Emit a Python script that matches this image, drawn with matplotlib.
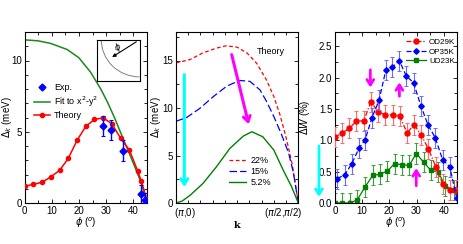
import matplotlib
matplotlib.use("Agg")
import matplotlib.pyplot as plt
from matplotlib.ticker import MultipleLocator, FixedLocator, FormatStrFormatter
from matplotlib.patches import Arc
from matplotlib.lines import Line2D
import matplotlib.transforms as mtransforms

plt.rcParams['font.family'] = ['Liberation Sans', 'DejaVu Sans']
plt.rcParams['mathtext.fontset'] = 'dejavusans'
plt.rcParams['font.size'] = 7

# ---------- Panel (a) data ----------
theory_phi = [0, 3.2, 6.4, 9.6, 12.9, 16.1, 19.3, 22.5, 25.7, 28.9, 32.1, 35.4, 38.6, 41.6, 42.9, 45]
theory_gap = [1.17, 1.31, 1.45, 1.82, 2.29, 3.13, 4.39, 5.37, 5.86, 5.98, 5.56, 4.53, 3.69, 2.26, 1.55, 0.25]
fit_phi = [0, 5, 9.6, 15.7, 20, 24.3, 28, 30.5, 33, 36, 39, 42.8, 45]
fit_gap = [11.45, 11.38, 11.2, 10.77, 10.19, 9.18, 8.01, 7.08, 6.03, 4.63, 3.27, 1.47, 0.0]
exp_phi = [28.7, 31.9, 36.3, 42.7, 44.4]
exp_gap = [5.38, 5.1, 3.68, 0.6, 0.18]
exp_err = [0.7, 0.7, 0.72, 0.65, 0.5]

# ---------- Panel (b) data ----------
k22 = [0, 0.115, 0.22, 0.33, 0.41, 0.5, 0.58, 0.66, 0.74, 0.80, 0.85, 0.90, 0.95, 1.0]
g22 = [14.75, 15.1, 15.8, 16.3, 16.55, 16.4, 15.8, 14.7, 12.95, 11.2, 9.3, 6.9, 4.1, 0.0]
k15 = [0, 0.087, 0.196, 0.305, 0.415, 0.52, 0.605, 0.687, 0.74, 0.80, 0.86, 0.92, 0.96, 1.0]
g15 = [8.6, 9.0, 9.97, 11.2, 12.3, 12.9, 12.8, 11.9, 10.7, 9.1, 7.3, 5.3, 3.2, 0.0]
k05 = [0, 0.05, 0.115, 0.22, 0.33, 0.44, 0.55, 0.62, 0.71, 0.80, 0.877, 0.946, 1.0]
g05 = [0.0, 0.2, 0.81, 2.05, 3.8, 5.74, 7.04, 7.5, 6.97, 5.57, 3.45, 1.69, 0.0]
b_labels = ['22%', '15%', '5.2%']
k_ticklabels = [r'($\pi$,0)', r'($\pi$/2,$\pi$/2)']

# ---------- Panel (c) data ----------
od_phi = [0, 2.65, 5.3, 7.9, 10.6, 13.2, 15.9, 18.5, 21.2, 23.8, 26.5, 29.1, 31.8, 34.4, 37.1, 39.7, 42.4, 44.6]
od_w = [1.05, 1.12, 1.19, 1.31, 1.31, 1.62, 1.45, 1.41, 1.41, 1.39, 1.12, 1.25, 1.08, 0.86, 0.58, 0.30, 0.20, 0.20]
op_phi = [0.85, 3.6, 6.2, 8.9, 11.1, 13.5, 16.2, 18.7, 21.1, 23.7, 26.2, 28.9, 31.6, 34.2, 36.9, 39.6, 42.2, 44.8]
op_w = [0.39, 0.45, 0.63, 0.88, 1.01, 1.35, 1.64, 2.12, 2.17, 2.27, 2.03, 1.92, 1.55, 1.25, 1.04, 0.69, 0.58, 0.08]
ud_phi = [0, 2.7, 5.5, 8.2, 11.1, 13.9, 16.6, 19.3, 21.9, 24.6, 27.3, 29.9, 32.6, 35.3, 37.9, 40.6, 43.9]
ud_w = [0.0, 0.0, 0.0, 0.05, 0.26, 0.44, 0.46, 0.51, 0.63, 0.61, 0.60, 0.79, 0.65, 0.52, 0.50, 0.27, 0.20]
err_c = 0.16
c_labels = ['OD29K', 'OP35K', 'UD23K']

W, H = 463, 244
fig = plt.figure(figsize=(W / 100, H / 100), dpi=100)

def pos(l, r, b, t):
    return [l / W, 1 - b / H, (r - l) / W, (b - t) / H]

ax1 = fig.add_axes(pos(24.5, 146.9, 203, 32))
ax2 = fig.add_axes(pos(176, 298.3, 203, 32))
ax3 = fig.add_axes(pos(335, 457.3, 203, 32))

for ax in (ax1, ax2, ax3):
    ax.tick_params(which='both', direction='in', top=True, right=True, labelsize=7, pad=2)
    ax.tick_params(which='major', length=3, width=0.6)
    ax.tick_params(which='minor', length=2, width=0.6)
    for s in ax.spines.values():
        s.set_linewidth(0.8)

# ---------- Panel (a) ----------
ax1.plot(fit_phi, fit_gap, color='#1a8a1a', lw=1.1, zorder=2)
ax1.plot(theory_phi, theory_gap, color='red', lw=1.1, marker='o', ms=3, zorder=3)
ax1.errorbar(exp_phi, exp_gap, yerr=exp_err, fmt='D', color='blue', ms=3.5, elinewidth=1,
             capsize=1.5, capthick=0.8, zorder=4)
ax1.set_xlim(0, 45)
ax1.set_ylim(0, 12)
ax1.xaxis.set_major_locator(MultipleLocator(10))
ax1.xaxis.set_minor_locator(MultipleLocator(5))
ax1.yaxis.set_major_locator(MultipleLocator(5))
ax1.yaxis.set_minor_locator(MultipleLocator(1))
ax1.set_xlabel(r'$\phi$ ($^o$)', labelpad=0)
ax1.set_ylabel(r'$\Delta_k$ (meV)')
ax1.yaxis.set_label_coords(-0.088, 0.5)
h_exp = Line2D([], [], color='blue', marker='D', ls='none', ms=3.5)
h_fit = Line2D([], [], color='#1a8a1a', lw=1.1)
h_th = Line2D([], [], color='red', lw=1.1, marker='o', ms=3)
ax1.legend([h_exp, h_fit, h_th], ['Exp.', 'Fit to x$^2$-y$^2$', 'Theory'],
           loc='upper left', bbox_to_anchor=(0.05, 0.72), frameon=False,
           handlelength=1.7, handletextpad=0.5, labelspacing=0.25, fontsize=6.5, borderaxespad=0)

# inset
ins = fig.add_axes(pos(97, 139.5, 81, 39.5))
ins.set_xlim(0, 1)
ins.set_ylim(0, 1)
ins.set_xticks([])
ins.set_yticks([])
for s in ins.spines.values():
    s.set_linewidth(0.8)
ins.add_patch(Arc((1, 1), 1.8, 1.8, theta1=180, theta2=270, color='gray', lw=0.7))
ins.annotate('', xy=(0.3, 0.54), xytext=(0.98, 0.98),
             arrowprops=dict(arrowstyle='-|>', color='black', lw=0.8, mutation_scale=5))
ins.text(0.5, 0.82, r'$\phi$', fontsize=6.5, rotation=30, ha='center', va='center')

# ---------- Panel (b) ----------
ax2.plot(k22, g22, color='red', lw=0.9, ls=(0, (3, 2)), label=b_labels[0])
ax2.plot(k15, g15, color='blue', lw=0.9, ls=(0, (6, 2.5)), label=b_labels[1])
ax2.plot(k05, g05, color='green', lw=1.0, label=b_labels[2])
ax2.set_xlim(0, 1)
ax2.set_ylim(0, 18)
ax2.xaxis.set_major_locator(FixedLocator([0, 1]))
ax2.set_xticklabels(k_ticklabels)
tl = ax2.get_xticklabels()
tl[0].set_horizontalalignment('left')
tl[0].set_transform(tl[0].get_transform() + mtransforms.ScaledTranslation(-2 / 100, 0, fig.dpi_scale_trans))
tl[1].set_horizontalalignment('right')
tl[1].set_transform(tl[1].get_transform() + mtransforms.ScaledTranslation(4 / 100, 0, fig.dpi_scale_trans))
ax2.xaxis.set_minor_locator(MultipleLocator(0.1))
ax2.yaxis.set_major_locator(MultipleLocator(5))
ax2.yaxis.set_minor_locator(MultipleLocator(2.5))
ax2.set_xlabel('k', fontfamily='DejaVu Serif', fontweight='bold', labelpad=1)
ax2.set_ylabel(r'$\Delta_k$ (meV)')
ax2.yaxis.set_label_coords(-0.11, 0.5)
ax2.text(0.66, 0.885, 'Theory', transform=ax2.transAxes, fontsize=6.5, va='center')
ax2.legend(loc='lower left', bbox_to_anchor=(0.40, 0.07), frameon=False, handlelength=1.9,
           handletextpad=0.5, labelspacing=0.25, fontsize=6.5, borderaxespad=0)
ax2.annotate('', xy=(0.068, 1.4), xytext=(0.068, 13.8),
             arrowprops=dict(arrowstyle='->, head_length=0.55, head_width=0.35', color='cyan', lw=2.2))
ax2.annotate('', xy=(0.6, 8.0), xytext=(0.45, 15.9),
             arrowprops=dict(arrowstyle='->, head_length=0.55, head_width=0.35', color='magenta', lw=2.2))

# ---------- Panel (c) ----------
ax3.errorbar(od_phi, od_w, yerr=err_c, color='red', ecolor='#ff6a6a', ls=(0, (4, 1.5, 1, 1.5)), lw=0.9,
             marker='o', ms=3.6, elinewidth=0.8, capsize=1.6, capthick=0.7, zorder=3)
ax3.errorbar(op_phi, op_w, yerr=err_c, color='blue', ecolor='#6a6aff', ls=(0, (4, 2)), lw=0.9,
             marker='D', ms=2.8, elinewidth=0.8, capsize=1.6, capthick=0.7, zorder=4)
ax3.errorbar(ud_phi, ud_w, yerr=err_c, color='green', ecolor='#3aa03a', ls='-', lw=0.9,
             marker='s', ms=2.8, elinewidth=0.8, capsize=1.6, capthick=0.7, zorder=2)
ax3.set_xlim(0, 45)
ax3.set_ylim(0, 2.73)
ax3.xaxis.set_major_locator(MultipleLocator(10))
ax3.xaxis.set_minor_locator(MultipleLocator(5))
ax3.yaxis.set_major_locator(MultipleLocator(0.5))
ax3.yaxis.set_minor_locator(MultipleLocator(0.25))
ax3.yaxis.set_major_formatter(FormatStrFormatter('%.1f'))
ax3.set_xlabel(r'$\phi$ ($^o$)', labelpad=0)
ax3.set_ylabel(r'$\Delta W$ (%)')
ax3.yaxis.set_label_coords(-0.185, 0.5)
lh = [Line2D([], [], color='red', ls=(0, (4, 1.5, 1, 1.5)), lw=0.9, marker='o', ms=3.6),
      Line2D([], [], color='blue', ls=(0, (4, 2)), lw=0.9, marker='D', ms=2.8),
      Line2D([], [], color='green', lw=0.9, marker='s', ms=2.8)]
ax3.legend(lh, c_labels, loc='upper right', bbox_to_anchor=(1.01, 0.98), frameon=False,
           handlelength=2.4, handletextpad=0.4, labelspacing=0.2, fontsize=5.8, borderaxespad=0)
aprops = dict(arrowstyle='->, head_length=0.55, head_width=0.35', color='magenta', lw=2.0)
ax3.annotate('', xy=(13.0, 1.80), xytext=(13.0, 2.17), arrowprops=aprops)
ax3.annotate('', xy=(23.7, 1.97), xytext=(23.7, 1.66), arrowprops=aprops)
ax3.annotate('', xy=(29.9, 0.60), xytext=(29.9, 0.23), arrowprops=aprops)
ax3.annotate('', xy=(-0.131, 0.02), xytext=(-0.131, 0.35), xycoords='axes fraction',
             textcoords='axes fraction', annotation_clip=False,
             arrowprops=dict(arrowstyle='->, head_length=0.55, head_width=0.35', color='cyan', lw=2.0))

fig.savefig('out.png', dpi=100)
